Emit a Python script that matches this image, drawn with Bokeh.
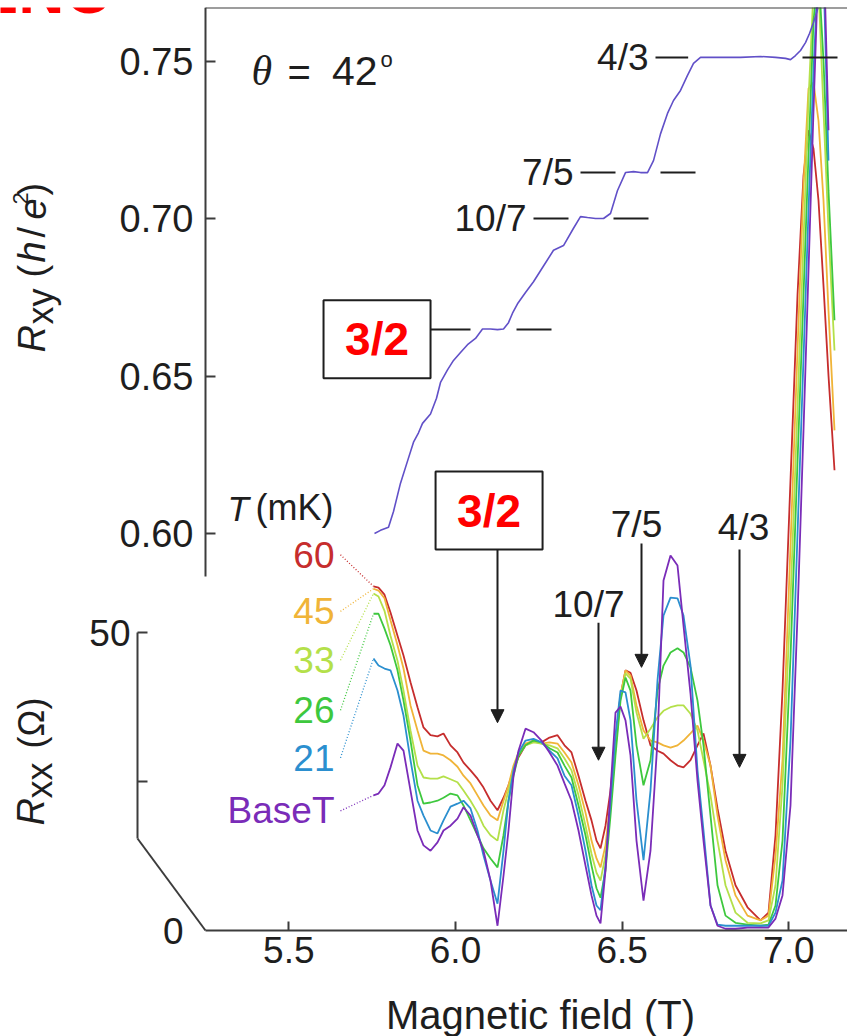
import math
from bokeh.plotting import figure
from bokeh.models import (Range1d, LinearAxis, FixedTicker, PrintfTickFormatter,
                          Label, Arrow, NormalHead)
from bokeh.embed import file_html
from bokeh.resources import INLINE

nan = float("nan")

# ---------------------------------------------------------------- data
# Magnetic field grid (T) shared by the longitudinal resistance traces
field = [5.754, 5.769, 5.787, 5.805, 5.826, 5.844, 5.865, 5.886, 5.904, 5.925,
         5.946, 5.964, 5.985, 6.006, 6.024, 6.045, 6.066, 6.084, 6.105, 6.126,
         6.144, 6.159, 6.174, 6.189, 6.210, 6.234, 6.258, 6.282, 6.306, 6.327,
         6.348, 6.369, 6.390, 6.408, 6.423, 6.435, 6.450, 6.465, 6.480, 6.495,
         6.510, 6.525, 6.543, 6.564, 6.585, 6.606, 6.624, 6.645, 6.666, 6.684,
         6.705, 6.726, 6.744, 6.765, 6.786, 6.810, 6.840, 6.876, 6.915, 6.939,
         6.960, 6.981, 7.005, 7.026, 7.044, 7.059, 7.074, 7.089, 7.104, 7.119,
         7.137]

# R_xx (Ohm) at each temperature
rxx_60 = [57.8, 57.6, 56.4, 53.4, 49.5, 46.2, 41.7, 37.5, 34.1, 32.8,
          32.6, 33.1, 31.1, 29.9, 28.2, 26.9, 25.5, 24.0, 21.8, 20.2,
          22.3, 24.4, 26.9, 29.1, 31.1, 31.9, 31.6, 32.4, 32.8, 31.1,
          29.9, 26.0, 21.8, 18.5, 15.1, 13.8, 17.6, 23.5, 31.9, 39.5,
          43.7, 43.3, 40.3, 35.3, 31.1, 30.2, 29.7, 28.6, 27.7, 27.4,
          28.6, 31.1, 33.1, 27.7, 20.5, 13.4, 7.6, 3.9, 1.7, 3.0,
          16.0, 40.3, 75.6, 106.7, 126.8, 134.4, 131.3, 122.6, 108.3, 93.2,
          77.3]
rxx_45 = [57.4, 57.1, 55.8, 52.1, 47.9, 44.0, 37.8, 33.6, 30.2, 29.7,
          29.7, 29.4, 28.6, 27.5, 26.0, 24.7, 22.7, 21.0, 19.3, 18.5,
          21.8, 24.4, 27.7, 29.9, 31.4, 31.9, 31.4, 31.6, 31.4, 29.9,
          28.2, 24.4, 19.8, 15.1, 12.1, 10.6, 14.3, 21.8, 31.1, 39.5,
          43.7, 42.8, 37.8, 33.6, 31.9, 31.6, 31.1, 30.7, 31.1, 31.9,
          33.1, 34.4, 31.9, 27.7, 19.3, 11.8, 5.9, 2.5, 1.7, 2.5,
          12.6, 28.6, 64.7, 97.4, 125.1, 141.4, 142.4, 136.0, 122.6, 104.1,
          84.0]
rxx_33 = [56.6, 56.1, 53.7, 49.5, 45.3, 40.3, 33.6, 27.7, 25.7, 25.5,
          25.5, 25.9, 25.4, 24.9, 23.5, 21.8, 19.8, 17.6, 16.0, 15.1,
          20.2, 23.5, 26.9, 29.4, 31.1, 31.6, 31.4, 31.1, 30.6, 28.9,
          26.9, 22.7, 17.6, 12.9, 9.7, 8.4, 12.6, 21.0, 30.6, 39.1,
          43.2, 42.3, 36.6, 32.2, 33.9, 35.8, 36.9, 37.5, 37.8, 37.8,
          36.4, 33.6, 28.6, 22.7, 15.1, 7.6, 3.0, 1.3, 1.2, 1.7,
          7.6, 24.4, 55.4, 87.8, 115.9, 139.4, 158.0, 158.5, 137.7, 117.6,
          97.4]
rxx_26 = [53.2, 53.2, 50.7, 47.9, 43.7, 38.6, 31.9, 24.4, 21.3, 21.5,
          21.8, 22.3, 23.0, 22.7, 21.0, 18.5, 16.0, 13.8, 12.1, 10.6,
          16.0, 21.8, 26.0, 29.4, 31.1, 31.9, 31.6, 30.6, 29.9, 27.7,
          25.7, 21.0, 16.0, 10.9, 7.1, 5.5, 10.1, 19.3, 29.4, 38.6,
          42.5, 40.3, 31.1, 24.4, 28.6, 40.3, 44.5, 46.7, 47.4, 46.7,
          44.2, 38.6, 31.1, 19.3, 7.6, 2.5, 1.3, 1.0, 0.8, 1.0,
          4.2, 15.1, 45.9, 78.6, 106.7, 130.2, 152.8, 161.2, 146.1, 124.3,
          102.5]
rxx_21 = [45.7, 44.5, 44.0, 43.7, 40.3, 36.1, 28.6, 21.8, 19.3, 16.8,
          16.3, 18.5, 20.8, 21.3, 21.8, 20.5, 16.8, 12.6, 8.4, 4.5,
          13.4, 21.8, 26.9, 29.9, 31.9, 32.2, 31.6, 30.2, 28.9, 26.0,
          24.4, 19.3, 13.4, 7.6, 4.2, 3.4, 10.9, 21.8, 32.8, 40.3,
          40.0, 35.3, 21.8, 11.8, 23.5, 42.0, 52.9, 55.9, 55.8, 52.9,
          44.5, 26.9, 16.8, 4.2, 1.0, 0.8, 0.8, 0.8, 0.8, 0.8,
          3.0, 8.4, 31.9, 66.5, 96.1, 120.9, 144.4, 162.9, 161.2, 129.3,
          nan]
rxx_base = [22.7, 23.0, 24.4, 27.4, 31.4, 30.2, 23.5, 16.8, 14.3, 13.4,
            14.8, 16.8, 17.6, 18.8, 20.7, 19.3, 16.0, 13.4, 8.4, 0.8,
            9.2, 16.8, 26.0, 30.2, 33.9, 33.3, 31.9, 29.9, 27.7, 24.7,
            21.8, 16.8, 10.9, 5.9, 2.5, 1.2, 10.1, 23.5, 36.6, 37.6,
            35.3, 29.4, 15.1, 5.0, 13.4, 31.9, 58.8, 63.0, 61.3, 51.2,
            39.8, 25.2, 15.1, 4.2, 0.8, 0.3, 0.3, 0.5, 0.5, 0.5,
            2.0, 5.9, 21.0, 52.9, 84.0, 110.8, 137.7, 162.9, 166.3, 134.4,
            nan]

temps = ["60", "45", "33", "26", "21", "BaseT"]
temp_colors = ["#c62d2d", "#f0b438", "#b4e04a", "#3ec83e", "#2b8fcf", "#7a2cb8"]
temp_label_rxx = [63.1, 53.6, 45.4, 37.0, 29.0, 20.1]

# Hall resistance R_xy (h/e^2) at base temperature
rxy_field = [5.757, 5.775, 5.799, 5.814, 5.835, 5.856, 5.874, 5.889, 5.901, 5.925,
             5.943, 5.955, 5.976, 5.994, 6.015, 6.036, 6.060, 6.081, 6.105, 6.126,
             6.144, 6.159, 6.171, 6.186, 6.210, 6.234, 6.264, 6.294, 6.324, 6.354,
             6.375, 6.396, 6.420, 6.444, 6.465, 6.486, 6.510, 6.534, 6.555, 6.576,
             6.594, 6.615, 6.636, 6.654, 6.675, 6.696, 6.714, 6.735, 6.795, 6.855,
             6.915, 6.960, 6.990, 7.005, 7.020, 7.035, 7.050, 7.062, 7.074, 7.086,
             7.100]
rxy = [0.600, 0.601, 0.602, 0.607, 0.616, 0.623, 0.629, 0.632, 0.635, 0.638,
       0.643, 0.648, 0.652, 0.655, 0.6575, 0.660, 0.662, 0.665, 0.665, 0.6648,
       0.665, 0.667, 0.670, 0.673, 0.6766, 0.680, 0.685, 0.690, 0.6915, 0.697,
       0.7007, 0.7004, 0.7001, 0.7001, 0.7017, 0.709, 0.7147, 0.715, 0.7147, 0.7147,
       0.7185, 0.727, 0.7335, 0.7376, 0.7408, 0.7456, 0.7494, 0.7513, 0.7513, 0.7513,
       0.7516, 0.7513, 0.7510, 0.7506, 0.7519, 0.7535, 0.7560, 0.7589, 0.7624, 0.7665,
       0.7750]

# Hall plateaus: filling factor, R_xy level, extent of the two marker dashes (T)
plateau_nu = ["4/3", "7/5", "10/7", "3/2"]
plateau_level = [0.7513, 0.7147, 0.7001, 0.6648]
dash_left = [(6.600, 6.698), (6.375, 6.480), (6.234, 6.339), (5.925, 6.045)]
dash_right = [(7.041, 7.146), (6.615, 6.720), (6.474, 6.579), (6.183, 6.288)]

# R_xx minima marked with arrows: field, arrow top and tip (Ohm)
arrow_nu = ["3/2", "10/7", "7/5", "4/3"]
arrow_field = [6.126, 6.429, 6.558, 6.852]
arrow_top = [64.0, 51.7, 65.0, 64.0]
arrow_tip = [34.9, 28.6, 44.2, 27.4]
arrow_text_dx = [0, -10, -5, 4]
arrow_text_gap = [0, 5, 6, 9]

# ---------------------------------------------------------------- layout
W, H = 847, 1036
SANS = "Liberation Sans"
SERIF = "Liberation Serif"
INK = "#1e1e1e"
AXIS = "#3c3c3c"
RED = "#ff0000"
BASE_SHIFT = 0.35                  # em offset of the alphabetic baseline in labels

B_LO, B_HI = 4.635, 7.176          # field spanned by the canvas width
RXX_LO, RXX_HI = -17.80, 155.02    # Ohm, canvas bottom .. frame top
RXY_LO, RXY_HI = 0.44015, 0.76716  # h/e^2, canvas bottom .. frame top
PANEL_B = 5.25                     # left edge of the panels
RXX_AXIS_B = 5.046                 # offset R_xx axis
RXX_BREAK = 15.45                  # R_xx axis bends towards the origin below this
RXY_AXIS_LOW = 0.5863

p = figure(width=W, height=H, x_range=Range1d(B_LO, B_HI), y_range=Range1d(RXX_LO, RXX_HI),
           x_axis_type=None, y_axis_type=None, toolbar_location=None, output_backend="svg",
           min_border_left=0, min_border_right=0, min_border_top=7, min_border_bottom=0)
p.extra_y_ranges = {"rxy": Range1d(RXY_LO, RXY_HI)}
p.outline_line_color = None
p.background_fill_color = "white"
p.border_fill_color = "white"


def style(ax, size="37px"):
    ax.axis_line_color = AXIS
    ax.axis_line_width = 2
    ax.major_tick_line_color = AXIS
    ax.major_tick_line_width = 2
    ax.minor_tick_line_color = None
    ax.major_label_text_font = SANS
    ax.major_label_text_font_size = size
    ax.major_label_text_color = INK
    return ax


# R_xy axis (upper panel)
ax_rxy = style(LinearAxis(y_range_name="rxy", fixed_location=PANEL_B,
                          bounds=(RXY_AXIS_LOW, RXY_HI),
                          ticker=FixedTicker(ticks=[0.60, 0.65, 0.70, 0.75]),
                          formatter=PrintfTickFormatter(format="%.2f"),
                          major_tick_in=10, major_tick_out=0, major_label_standoff=12),
               size="38px")
p.add_layout(ax_rxy, "left")

# R_xx axis (lower panel), offset to the left with a bent foot
ax_rxx = style(LinearAxis(fixed_location=RXX_AXIS_B, bounds=(RXX_BREAK, 50),
                          ticker=FixedTicker(ticks=[25, 50]),
                          major_label_overrides={25: ""},
                          major_tick_in=10, major_tick_out=0, major_label_standoff=7))
p.add_layout(ax_rxx, "left")
p.segment(x0=[RXX_AXIS_B], y0=[RXX_BREAK], x1=[PANEL_B], y1=[0],
          line_color=AXIS, line_width=2)

ax_zero = style(LinearAxis(fixed_location=PANEL_B, ticker=FixedTicker(ticks=[0]),
                           major_tick_in=0, major_tick_out=0, major_label_standoff=22))
ax_zero.axis_line_color = None
p.add_layout(ax_zero, "left")

# field axis and top frame line
ax_b = style(LinearAxis(fixed_location=0, bounds=(PANEL_B, B_HI),
                        ticker=FixedTicker(ticks=[5.5, 6.0, 6.5, 7.0]),
                        formatter=PrintfTickFormatter(format="%.1f"),
                        major_tick_in=9, major_tick_out=0, major_label_standoff=6))
p.add_layout(ax_b, "below")

ax_top = style(LinearAxis(fixed_location=RXX_HI, bounds=(PANEL_B, B_HI),
                          ticker=FixedTicker(ticks=[]), major_tick_in=0, major_tick_out=0))
p.add_layout(ax_top, "above")

# ---------------------------------------------------------------- traces
for series, color in zip([rxx_60, rxx_45, rxx_33, rxx_26, rxx_21, rxx_base], temp_colors):
    p.line(field, series, line_color=color, line_width=1.8)

p.line(rxy_field, rxy, y_range_name="rxy", line_color="#6150c8", line_width=1.6)

# temperature labels with dotted leaders to the start of each trace
LABEL_B = 5.655
for name, color, ly, series in zip(temps, temp_colors, temp_label_rxx,
                                   [rxx_60, rxx_45, rxx_33, rxx_26, rxx_21, rxx_base]):
    p.segment(x0=[LABEL_B], y0=[ly], x1=[field[0]], y1=[series[0]],
              line_color=color, line_width=1.3, line_dash="1 2")
    p.add_layout(Label(x=LABEL_B, y=ly, x_offset=-6, text=name, text_font=SANS,
                       text_font_size="37px", text_color=color,
                       text_align="right", text_baseline="middle"))

# plateau markers on R_xy
for nu, lev, dl, dr in zip(plateau_nu, plateau_level, dash_left, dash_right):
    p.segment(x0=[dl[0], dr[0]], y0=[lev, lev], x1=[dl[1], dr[1]], y1=[lev, lev],
              y_range_name="rxy", line_color=INK, line_width=2)
    if nu != "3/2":
        p.add_layout(Label(x=dl[0], y=lev, y_range_name="rxy", x_offset=-7, text=nu,
                           text_font=SANS, text_font_size="37px", text_color=INK,
                           text_align="right", text_baseline="middle"))

# arrows on R_xx minima
for nu, bx, top, tip, dx, gap in zip(arrow_nu, arrow_field, arrow_top, arrow_tip,
                                     arrow_text_dx, arrow_text_gap):
    p.add_layout(Arrow(x_start=bx, y_start=top, x_end=bx, y_end=tip,
                       line_color=INK, line_width=2,
                       end=NormalHead(size=13, fill_color=INK, line_color=INK)))
    if nu != "3/2":
        p.add_layout(Label(x=bx, y=top, x_offset=dx, y_offset=gap + BASE_SHIFT * 37,
                           text=nu, text_font=SANS, text_font_size="37px", text_color=INK,
                           text_align="center", text_baseline="alphabetic"))

# boxed 3/2 labels
BOX_UP = (5.7646, 0.6617)
BOX_LOW = (6.1007, 70.54)
p.rect(x=[BOX_UP[0]], y=[BOX_UP[1]], width=107, height=78, width_units="screen",
       height_units="screen", y_range_name="rxy", fill_color="white",
       line_color=INK, line_width=2)
p.rect(x=[BOX_LOW[0]], y=[BOX_LOW[1]], width=107, height=78, width_units="screen",
       height_units="screen", fill_color="white", line_color=INK, line_width=2)
p.add_layout(Label(x=BOX_UP[0], y=BOX_UP[1], y_range_name="rxy", text="3/2",
                   text_font=SANS, text_font_style="bold", text_font_size="46px",
                   text_color=RED, text_align="center", text_baseline="middle"))
p.add_layout(Label(x=BOX_LOW[0], y=BOX_LOW[1], text="3/2",
                   text_font=SANS, text_font_style="bold", text_font_size="46px",
                   text_color=RED, text_align="center", text_baseline="middle"))


# ---------------------------------------------------------------- free text
def put(text, x, y, size, font=SANS, style="normal", color=INK, align="left", angle=0.0):
    """Place text by its baseline position in canvas pixels (y down)."""
    if angle:
        x -= BASE_SHIFT * size
    else:
        y -= BASE_SHIFT * size
    p.add_layout(Label(x=x, y=H - y, x_units="screen", y_units="screen", text=text,
                       text_font=font, text_font_style=style, text_font_size=f"{size}px",
                       text_color=color, text_align=align, text_baseline="alphabetic",
                       angle=angle))


UP = math.pi / 2

# angle of the field
put("\u03b8", 251, 85, 42, font=SERIF, style="italic")
put("=", 287, 85, 40)
put("42", 377, 85, 41, align="right")
put("o", 380, 67, 22)

# temperature header
put("T", 227, 520, 35, style="italic")
put("(mK)", 255, 520, 36)

# vertical axis titles
put("R", 45, 352, 38, style="italic", angle=UP)
put("xy", 53, 324, 36, angle=UP)
put("(", 45, 277, 38, angle=UP)
put("h", 45, 262, 38, style="italic", angle=UP)
put("/", 45, 237, 38, angle=UP)
put("e", 45, 219, 38, style="italic", angle=UP)
put("2", 28, 204, 22, angle=UP)
put(")", 45, 195, 38, angle=UP)

put("R", 44, 825, 38, style="italic", angle=UP)
put("xx", 52, 798, 36, angle=UP)
put("(\u03a9)", 44, 748, 36, angle=UP)

# field axis title
put("Magnetic field (T)", 540, 1028, 40, align="center")

# heading running off the top edge
put("ENC", -25, 13, 64, style="bold", color=RED)

open("out.html", "w").write(file_html(p, INLINE))
